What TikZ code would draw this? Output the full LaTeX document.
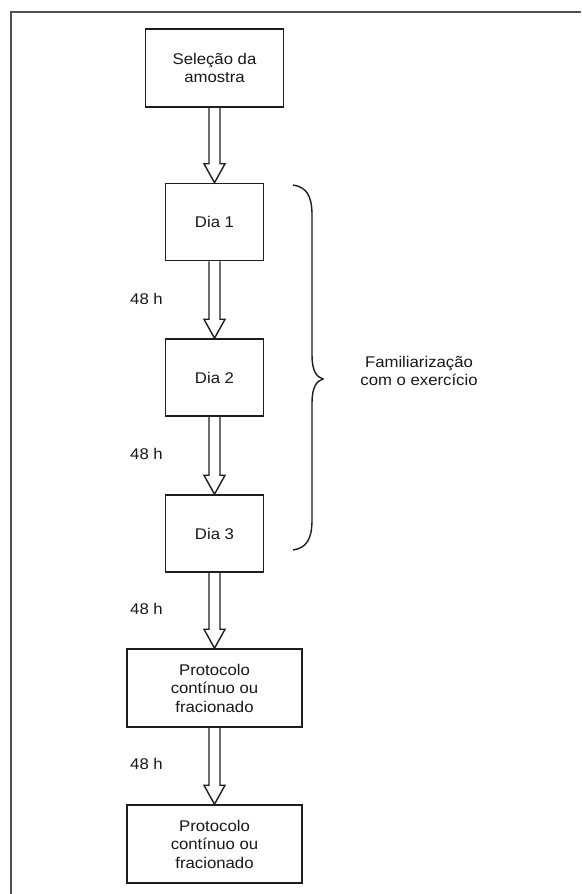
\documentclass[tikz,border=0pt]{standalone}
\usepackage{fontspec}
\setmainfont[FakeStretch=1.08]{Liberation Sans}
\usetikzlibrary{calc}
\definecolor{linec}{HTML}{1E1E1E}
\definecolor{framec}{HTML}{505050}
\tikzset{
  boxnode/.style={draw=linec, line width=1.5pt, align=center, inner sep=0pt,
    font=\fontsize{15.5}{18.5}\selectfont, text=black!90},
  lbl/.style={font=\fontsize{15.5}{18.5}\selectfont, text=black!90, inner sep=0pt},
  fatarrow/.style={draw=linec, line width=1.4pt, line join=miter}
}
\newcommand{\myfatarrow}[2]{%
  \draw[fatarrow] ($(#1.south)+(-5.5,0)$) -- ($(#2.north)+(-5.5,-19)$)
    -- ($(#2.north)+(-10.5,-19)$) -- (#2.north) -- ($(#2.north)+(10.5,-19)$)
    -- ($(#2.north)+(5.5,-19)$) -- ($(#1.south)+(5.5,0)$);}
\begin{document}
\begin{tikzpicture}[x=1pt,y=-1pt]
\useasboundingbox (0,0) rectangle (581,894);
\fill[white] (0,0) rectangle (581,894);
\draw[framec, line width=1.6pt] (11,894) -- (11,12) -- (581,12);

\node[boxnode, minimum width=138pt, minimum height=78pt] (sel) at (214.5,68) {Seleção da\\amostra};
\node[boxnode, minimum width=98pt, minimum height=77pt] (d1) at (214.5,222) {Dia 1};
\node[boxnode, minimum width=98pt, minimum height=77pt] (d2) at (214.5,377.5) {Dia 2};
\node[boxnode, minimum width=98pt, minimum height=77pt] (d3) at (214.5,533.5) {Dia 3};
\node[boxnode, minimum width=175pt, minimum height=78pt] (p1) at (214.5,688) {Protocolo\\contínuo ou\\fracionado};
\node[boxnode, minimum width=175pt, minimum height=78pt] (p2) at (214.5,844) {Protocolo\\contínuo ou\\fracionado};

\myfatarrow{sel}{d1}
\myfatarrow{d1}{d2}
\myfatarrow{d2}{d3}
\myfatarrow{d3}{p1}
\myfatarrow{p1}{p2}

\node[lbl] (h1) at (146.5,299) {48 h};
\node[lbl] (h2) at (146.5,454) {48 h};
\node[lbl] (h3) at (146.5,609) {48 h};
\node[lbl] (h4) at (146.5,764) {48 h};

\draw[linec, line width=1.4pt] (293,185) .. controls (306,187) and (312,195) .. (312,215)
  -- (312,355) .. controls (312,370) and (316,377) .. (323,379)
  .. controls (316,381) and (312,388) .. (312,403)
  -- (312,520) .. controls (312,540) and (306,548) .. (293,550);

\node[lbl, align=center] (fam) at (419,371) {Familiarização\\com o exercício};
\end{tikzpicture}
\end{document}
